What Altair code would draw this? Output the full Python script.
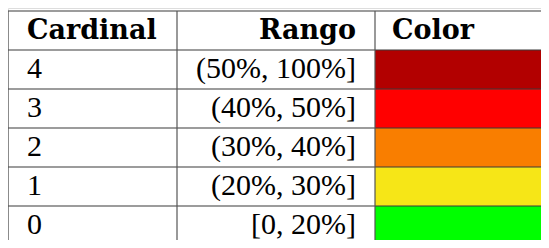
import altair as alt
import pandas as pd

# ---- data ----
headers = ["Cardinal", "Rango", "Color"]
cardinals = ["4", "3", "2", "1", "0"]
rangos = ["(50%, 100%]", "(40%, 50%]", "(30%, 40%]", "(20%, 30%]", "[0, 20%]"]
colores = ["#B20000", "#FF0000", "#F97E00", "#F6E617", "#00FF00"]

# ---- layout ----
W, H = 533, 232
COL_EDGES = [0, 169, 367, W]
TOP = 3
ROW_H = 39
PAD_L = 19
PAD_R = 19
ROW_ORDER = ["header"] + cardinals
LINE = "#3a3a3a"
BODY_FONT = "Liberation Serif"

xs = alt.Scale(domain=[0, W], range=[0, W])
ys = alt.Scale(domain=ROW_ORDER, range=[TOP, TOP + ROW_H * len(ROW_ORDER)],
               paddingInner=0, paddingOuter=0)

body = pd.DataFrame({"row": cardinals, "card": cardinals, "rango": rangos, "color": colores})
rows_df = pd.DataFrame({"row": ROW_ORDER})
vlines = pd.DataFrame({"x": COL_EDGES[:3]})
head_left = pd.DataFrame({"row": ["header", "header"], "label": [headers[0], headers[2]],
                          "x": [COL_EDGES[0] + PAD_L, COL_EDGES[2] + 17]})
head_right = pd.DataFrame({"row": ["header"], "label": [headers[1]], "x": [COL_EDGES[2] - PAD_R]})

Y = lambda **kw: alt.Y("row:N", scale=ys, axis=None, sort=ROW_ORDER, **kw)

cells = alt.Chart(body).mark_rect(stroke=None, clip=False).encode(
    x=alt.datum(COL_EDGES[2], scale=xs, axis=None),
    x2=alt.datum(COL_EDGES[3]),
    y=Y(),
    color=alt.Color("color:N", scale=None),
)

hrules = alt.Chart(rows_df).mark_rule(color=LINE, strokeWidth=1.2).encode(
    y=Y(bandPosition=0),
    x=alt.datum(0, scale=xs, axis=None),
    x2=alt.datum(W + 10),
)

vrules = alt.Chart(vlines).mark_rule(color="#555555", strokeWidth=1.2).encode(
    x=alt.X("x:Q", scale=xs, axis=None),
    y=alt.value(TOP),
    y2=alt.value(H + 20),
)

t_card = alt.Chart(body).mark_text(align="left", baseline="alphabetic", dy=8,
                                   font=BODY_FONT, fontSize=30, color="black").encode(
    x=alt.datum(COL_EDGES[0] + PAD_L, scale=xs, axis=None), y=Y(), text="card:N")

t_rango = alt.Chart(body).mark_text(align="right", baseline="alphabetic", dy=8,
                                    font=BODY_FONT, fontSize=30, color="black").encode(
    x=alt.datum(COL_EDGES[2] - PAD_R, scale=xs, axis=None), y=Y(), text="rango:N")

t_head_l = alt.Chart(head_left).mark_text(align="left", baseline="alphabetic", dy=8,
                                          font="DejaVu Serif", fontWeight="bold", fontSize=27,
                                          color="black").encode(
    x=alt.X("x:Q", scale=xs, axis=None), y=Y(), text="label:N")

t_head_r = alt.Chart(head_right).mark_text(align="right", baseline="alphabetic", dy=8,
                                           font="DejaVu Serif", fontWeight="bold", fontSize=27,
                                           color="black").encode(
    x=alt.X("x:Q", scale=xs, axis=None), y=Y(), text="label:N")

chart = alt.layer(cells, hrules, vrules, t_card, t_rango, t_head_l, t_head_r).properties(
    width=W, height=H, padding=0, autosize=alt.AutoSizeParams(type="none")
).configure_view(stroke=None).configure(background="white")

chart.save("out.html", embed_options={"renderer": "svg", "actions": False})
